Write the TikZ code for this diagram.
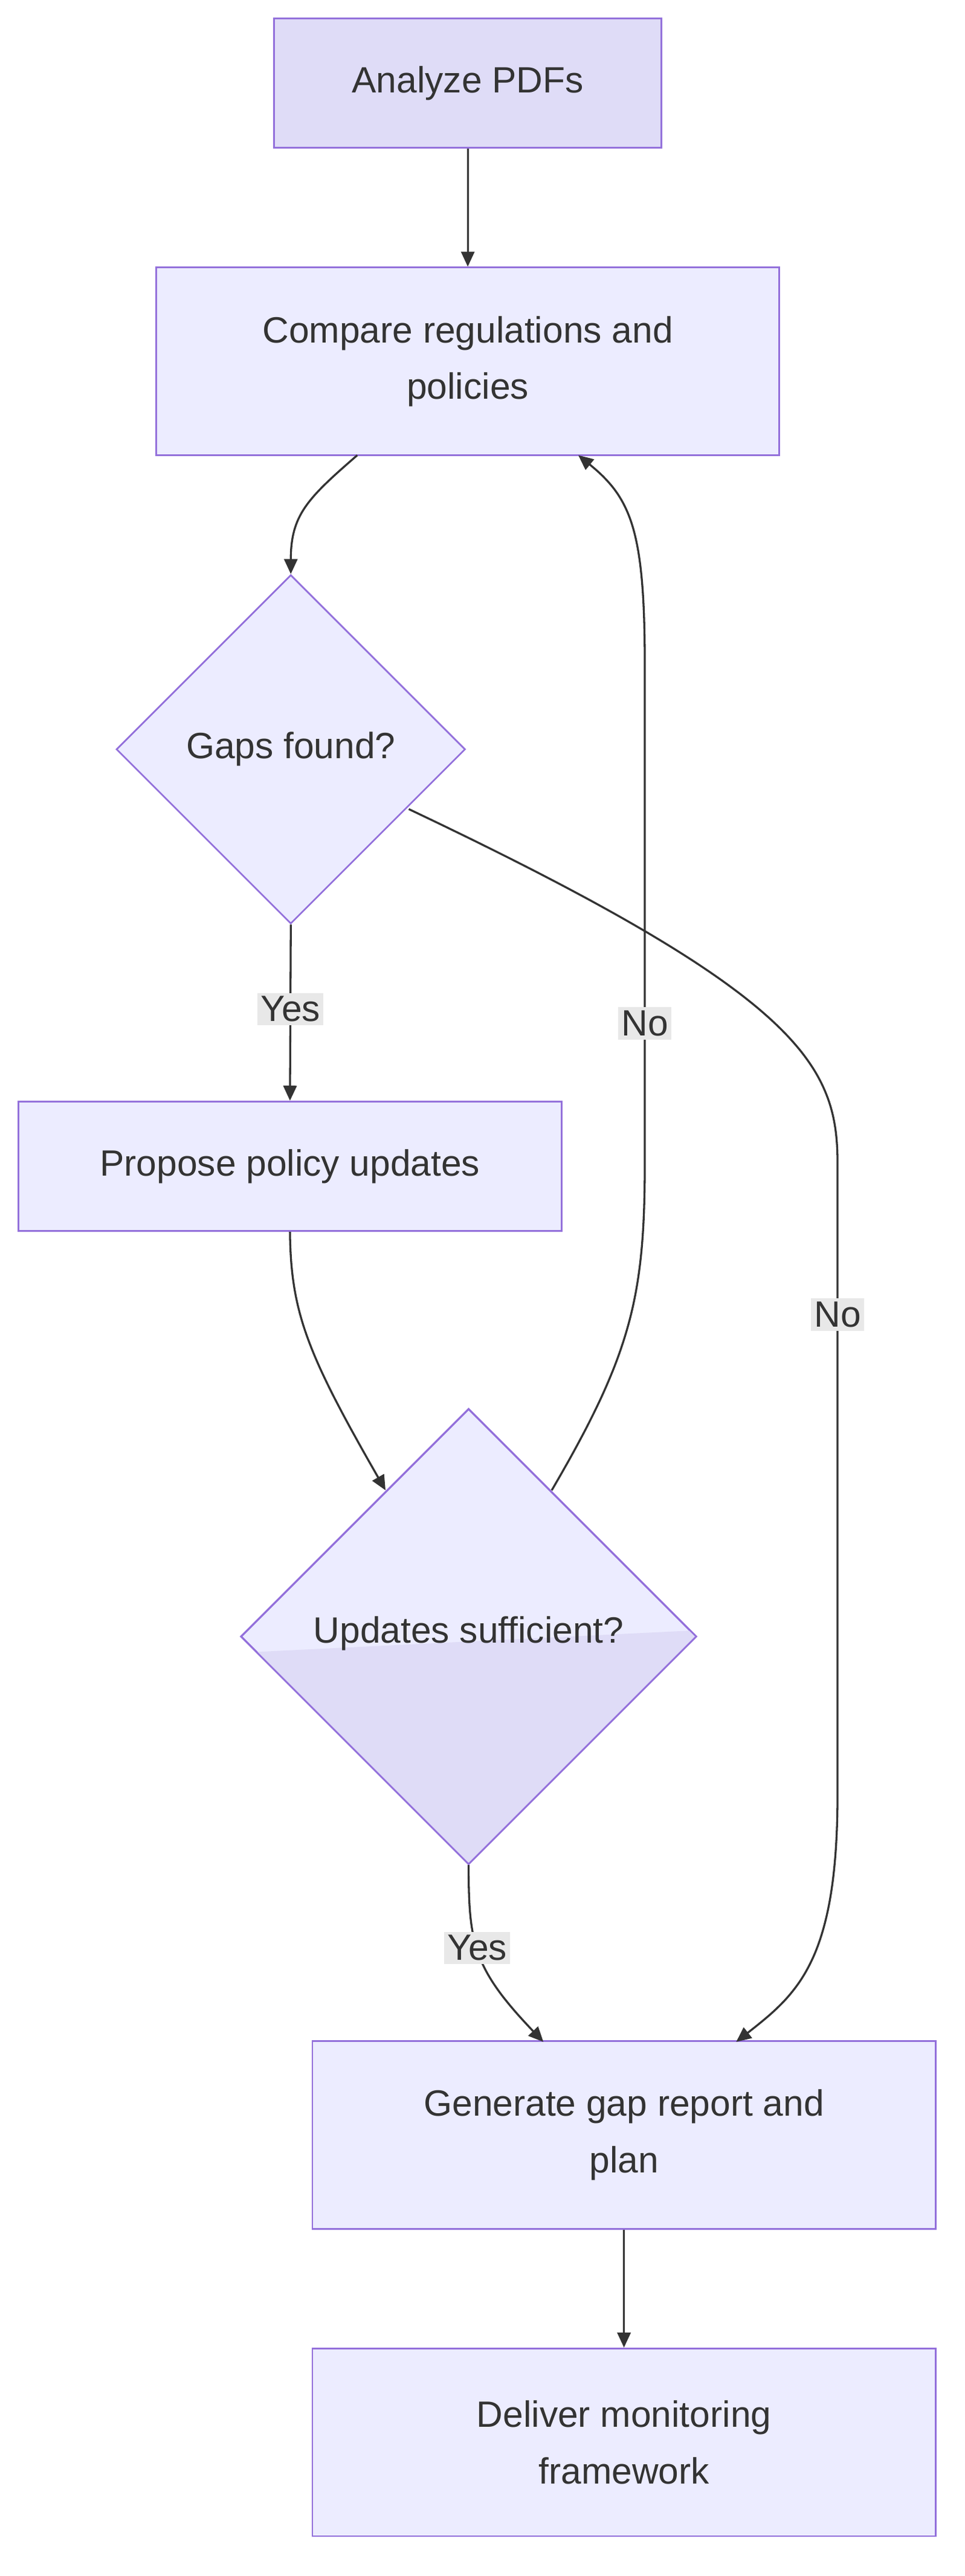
\documentclass[tikz,border=0pt]{standalone}
\usepackage{fontspec}
\setmainfont{Liberation Sans}
\usetikzlibrary{shapes.geometric,arrows.meta}
\definecolor{nfill}{HTML}{ECECFF}
\definecolor{nfill2}{HTML}{DFDCF7}
\definecolor{nline}{HTML}{9370DB}
\definecolor{tcol}{HTML}{333333}
\definecolor{lbg}{HTML}{E8E8E8}
\begin{document}
\begin{tikzpicture}[x=1pt,y=-1pt,
  box/.style={draw=nline,fill=nfill,line width=1pt,minimum width=#1,align=center,text=tcol,font=\fontsize{22}{34}\selectfont,inner sep=0pt},
  dia/.style={diamond,draw=nline,fill=nfill,line width=1pt,minimum width=#1,minimum height=#1,text=tcol,font=\fontsize{22}{34}\selectfont,inner sep=0pt,aspect=1},
  edge/.style={draw=tcol,line width=1.2pt,-{Triangle[length=9pt,width=8pt]}},
  lbl/.style={fill=lbg,text=tcol,font=\fontsize{22}{26}\selectfont,inner sep=2pt}]
\useasboundingbox (0,0) rectangle (580.4,1550.5);
\node[box=233,minimum height=78,fill=nfill2] (a) at (281.5,50) {Analyze PDFs};
\node[box=375,minimum height=113] (b) at (281.5,217.5) {Compare regulations and\\policies};
\node[dia=210] (c) at (175,451) {Gaps found?};
\node[box=327,minimum height=78] (d) at (174.5,702) {Propose policy updates};
\node[dia=274] (e) at (282,985) {};
\begin{scope}
\clip (145,985)--(282,848)--(419,985)--(282,1122)--cycle;
\fill[nfill2] (140,995) -- (425,981) -- (425,1130) -- (140,1130) -- cycle;
\end{scope}
\draw[nline,line width=1pt] (145,985)--(282,848)--(419,985)--(282,1122)--cycle;
\node[text=tcol,font=\fontsize{22}{34}\selectfont] at (282,983) {Updates sufficient?};
\node[box=375,minimum height=113] (f) at (375.5,1285) {Generate gap report and\\plan};
\node[box=375,minimum height=113] (g) at (375.5,1470) {Deliver monitoring\\framework};
\coordinate (n1) at (388,700);
\coordinate (n2) at (504,700);
\draw[edge] (a) -- (b);
\draw[edge] (215,274) .. controls (185,300) and (175,310) .. (c.north);
\draw[edge] (c.south) -- node[lbl,pos=0.48]{Yes} (d.north);
\draw[edge] (246,487) .. controls (480,598) and (504,640) .. (n2) -- node[lbl,pos=0.24]{No} (504,1080) .. controls (504,1180) and (480,1200) .. (443,1229);
\draw[edge] (d.south) .. controls (175,790) and (185,815) .. (232,897);
\draw[edge] (332,897) .. controls (380,815) and (388,780) .. (n1) -- node[lbl,pos=0.28]{No} (388,400) .. controls (388,320) and (380,300) .. (348,274);
\draw[edge] (e.south) .. controls (282,1170) and (285,1185) .. node[lbl,pos=0.45]{Yes} (327,1229);
\draw[edge] (f) -- (g);
\end{tikzpicture}
\end{document}
